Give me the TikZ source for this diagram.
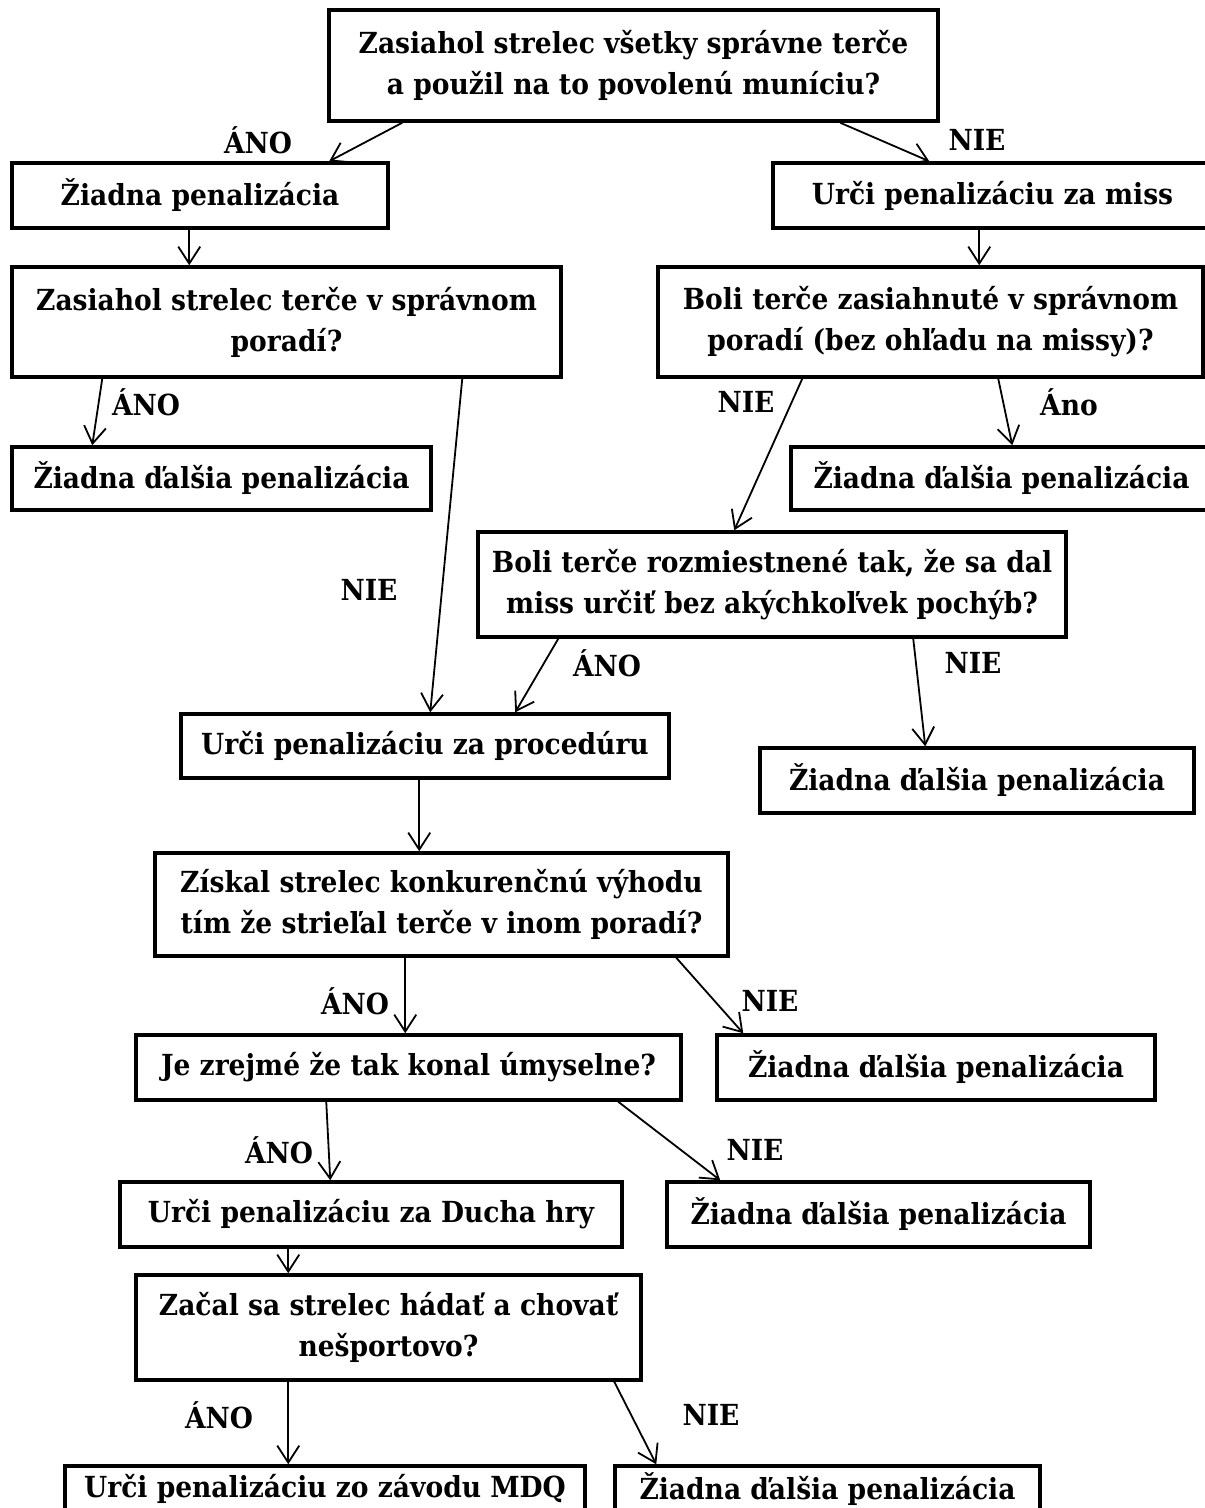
\documentclass[tikz,border=0pt]{standalone}
\usepackage{fontspec}
\setmainfont{DejaVu Serif}[FakeStretch=0.915]
\usepackage{tikz}
\usetikzlibrary{arrows.meta, positioning, calc}
\tikzset{
    box/.style={rectangle, draw, line width=3.5pt, align=center, inner sep=0pt, font=\fontsize{29}{41}\selectfont\bfseries},
    arrow/.style={line width=1.8pt, -{Straight Barb[length=17pt, width=22pt]}}
}

\begin{document}
\begin{tikzpicture}[x=1pt, y=-1pt,
    lbl/.style={font=\fontsize{29}{34}\selectfont\bfseries, inner sep=0pt}]

    \fill [white] (0,0) rectangle (1205,1508);
    \useasboundingbox (0,0) rectangle (1205,1508);
    \clip (0,0) rectangle (1205,1508);

    \node (q1)     [box, minimum width=609pt, minimum height=111pt] at (633.5,65.5) {Zasiahol strelec všetky správne terče\\a použil na to povolenú muníciu?};
    \node (none1)  [box, minimum width=376pt, minimum height=65pt]  at (200,195.5)   {Žiadna penalizácia};
    \node (missp)  [box, minimum width=439pt, minimum height=65pt]  at (992.5,195.5) {Urči penalizáciu za miss};
    \node (q2)     [box, minimum width=549pt, minimum height=110pt] at (286.5,322)   {Zasiahol strelec terče v správnom\\poradí?};
    \node (q3)     [box, minimum width=545pt, minimum height=110pt] at (930.5,322)   {Boli terče zasiahnuté v správnom\\poradí (bez ohľadu na missy)?};
    \node (none2)  [box, minimum width=419pt, minimum height=63pt]  at (221.5,478.5) {Žiadna ďalšia penalizácia};
    \node (none3)  [box, minimum width=421pt, minimum height=63pt]  at (1001.5,478.5) {Žiadna ďalšia penalizácia};
    \node (q4)     [box, minimum width=588pt, minimum height=105pt] at (772,584.5)   {Boli terče rozmiestnené tak, že sa dal\\miss určiť bez akýchkoľvek pochýb?};
    \node (proc)   [box, minimum width=488pt, minimum height=64pt]  at (425,746)     {Urči penalizáciu za procedúru};
    \node (none4)  [box, minimum width=434pt, minimum height=65pt]  at (977,780.5)   {Žiadna ďalšia penalizácia};
    \node (q5)     [box, minimum width=573pt, minimum height=103pt] at (441.5,904.5) {Získal strelec konkurenčnú výhodu\\tím že strieľal terče v inom poradí?};
    \node (q6)     [box, minimum width=545pt, minimum height=65pt]  at (408.5,1067.5) {Je zrejmé že tak konal úmyselne?};
    \node (none5)  [box, minimum width=438pt, minimum height=65pt]  at (936,1067.5)  {Žiadna ďalšia penalizácia};
    \node (spirit) [box, minimum width=502pt, minimum height=65pt]  at (371,1214.5)  {Urči penalizáciu za Ducha hry};
    \node (none6)  [box, minimum width=423pt, minimum height=65pt]  at (878.5,1214.5) {Žiadna ďalšia penalizácia};
    \node (q7)     [box, minimum width=505pt, minimum height=105pt] at (388.5,1327.5) {Začal sa strelec hádať a chovať\\nešportovo?};
    \node (mdq)    [box, minimum width=520pt, minimum height=46pt]  at (325,1489)    {Urči penalizáciu zo závodu MDQ};
    \node (none7)  [box, minimum width=425pt, minimum height=46pt]  at (827.5,1489)  {Žiadna ďalšia penalizácia};

    \node (yes1) [lbl] at (258,140)  {ÁNO};
    \node (no1)  [lbl] at (977,140)  {NIE};
    \node (yes2) [lbl] at (146,402)  {ÁNO};
    \node (no2)  [lbl] at (369,590)  {NIE};
    \node (no3)  [lbl] at (746,402)  {NIE};
    \node (yes3) [lbl] at (1069,402) {Áno};
    \node (yes4) [lbl] at (607,663)  {ÁNO};
    \node (no4)  [lbl] at (973,663)  {NIE};
    \node (yes5) [lbl] at (355,1001) {ÁNO};
    \node (no5)  [lbl] at (770,1001) {NIE};
    \node (yes6) [lbl] at (279,1150) {ÁNO};
    \node (no6)  [lbl] at (755,1150) {NIE};
    \node (yes7) [lbl] at (219,1415) {ÁNO};
    \node (no7)  [lbl] at (711,1415) {NIE};

    \draw [arrow] ([xshift=75pt]q1.south west) -- ([xshift=319pt]none1.north west);
    \draw [arrow] ([xshift=513pt]q1.south west) -- ([xshift=158pt]missp.north west);
    \draw [arrow] ([xshift=179pt]none1.south west) -- ([xshift=179pt]q2.north west);
    \draw [arrow] ([xshift=208pt]missp.south west) -- ([xshift=323pt]q3.north west);
    \draw [arrow] ([xshift=92pt]q2.south west) -- ([xshift=82pt]none2.north west);
    \draw [arrow] ([xshift=452pt]q2.south west) -- ([xshift=251pt]proc.north west);
    \draw [arrow] ([xshift=146pt]q3.south west) -- ([xshift=258pt]q4.north west);
    \draw [arrow] ([xshift=342pt]q3.south west) -- ([xshift=223pt]none3.north west);
    \draw [arrow] ([xshift=82pt]q4.south west) -- ([xshift=336pt]proc.north west);
    \draw [arrow] ([xshift=437pt]q4.south west) -- ([xshift=167pt]none4.north west);
    \draw [arrow] ([xshift=240pt]proc.south west) -- ([xshift=266pt]q5.north west);
    \draw [arrow] ([xshift=252pt]q5.south west) -- ([xshift=271pt]q6.north west);
    \draw [arrow] ([xshift=523pt]q5.south west) -- ([xshift=28pt]none5.north west);
    \draw [arrow] ([xshift=192pt]q6.south west) -- ([xshift=212pt]spirit.north west);
    \draw [arrow] ([xshift=484pt]q6.south west) -- ([xshift=55pt]none6.north west);
    \draw [arrow] ([xshift=170pt]spirit.south west) -- ([xshift=154pt]q7.north west);
    \draw [arrow] ([xshift=154pt]q7.south west) -- ([xshift=225pt]mdq.north west);
    \draw [arrow] ([xshift=480pt]q7.south west) -- ([xshift=43pt]none7.north west);
\end{tikzpicture}
\end{document}
